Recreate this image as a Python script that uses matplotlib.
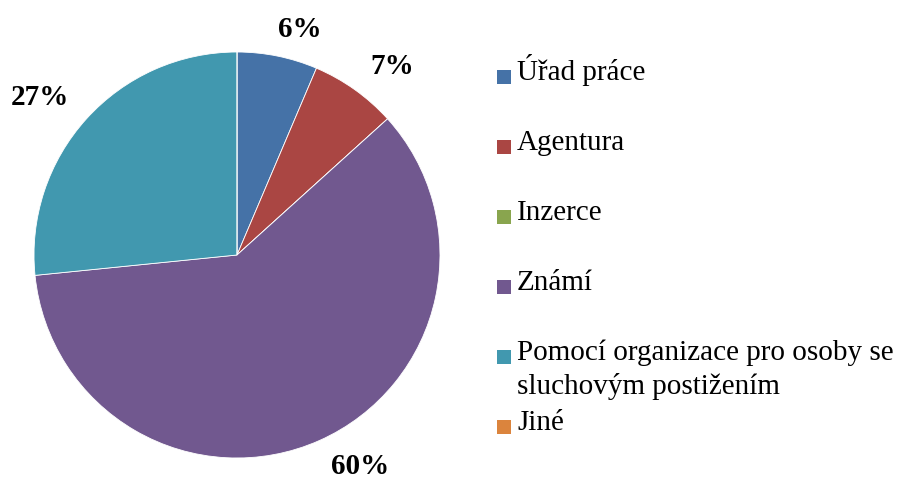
import matplotlib.pyplot as plt
from matplotlib.patches import Rectangle

labels = ["Úřad práce", "Agentura", "Inzerce", "Známí",
          "Pomocí organizace pro osoby se\nsluchovým postižením", "Jiné"]
values = [6.4, 6.9, 0.0, 60.1, 26.6, 0.0]
colors = ["#4572A7", "#AA4643", "#89A54E", "#71588F", "#4198AF", "#DB843D"]

plt.rcParams['font.family'] = ['Liberation Serif', 'DejaVu Serif']

W, H = 899, 479
DPI = 100
fig = plt.figure(figsize=(W / DPI, H / DPI), dpi=DPI)

# pie centre (237, 255) px, radius 203 px
cx, cy, r = 237, 255, 203
ax = fig.add_axes([(cx - r) / W, (H - cy - r) / H, 2 * r / W, 2 * r / H])


def pct(p):
    if p < 0.5:
        return ""
    return "%d%%" % round(p)


wedges, texts, autotexts = ax.pie(values, colors=colors, startangle=90,
                                  counterclock=False, autopct=pct,
                                  pctdistance=1.2,
                                  wedgeprops=dict(edgecolor="white", linewidth=0.6),
                                  textprops=dict(fontsize=21, fontweight="bold"))
ax.set_xlim(-1, 1)
ax.set_ylim(-1, 1)
ax.set_aspect("equal")

# excel-like "outside end" label spots (pie radius units)
label_pos = [(0.31, 1.11), (0.764, 0.93), None, (0.606, -1.04), (-0.97, 0.775), None]
for t, pos in zip(autotexts, label_pos):
    if pos is not None:
        t.set_position(pos)
        t.set_va("center")

# legend drawn by hand so that every entry takes the same slot
for i, (lab, col) in enumerate(zip(labels, colors)):
    base = 80.5 + 70 * i
    fig.patches.append(Rectangle((497 / W, (H - base - 3) / H), 14 / W, 14 / H,
                                 transform=fig.transFigure, facecolor=col,
                                 edgecolor="none"))
    for j, line in enumerate(lab.split("\n")):
        fig.text(517 / W, (H - base - 33 * j) / H, line, fontsize=21,
                 va="baseline", ha="left")

fig.savefig("out.png", dpi=DPI)
